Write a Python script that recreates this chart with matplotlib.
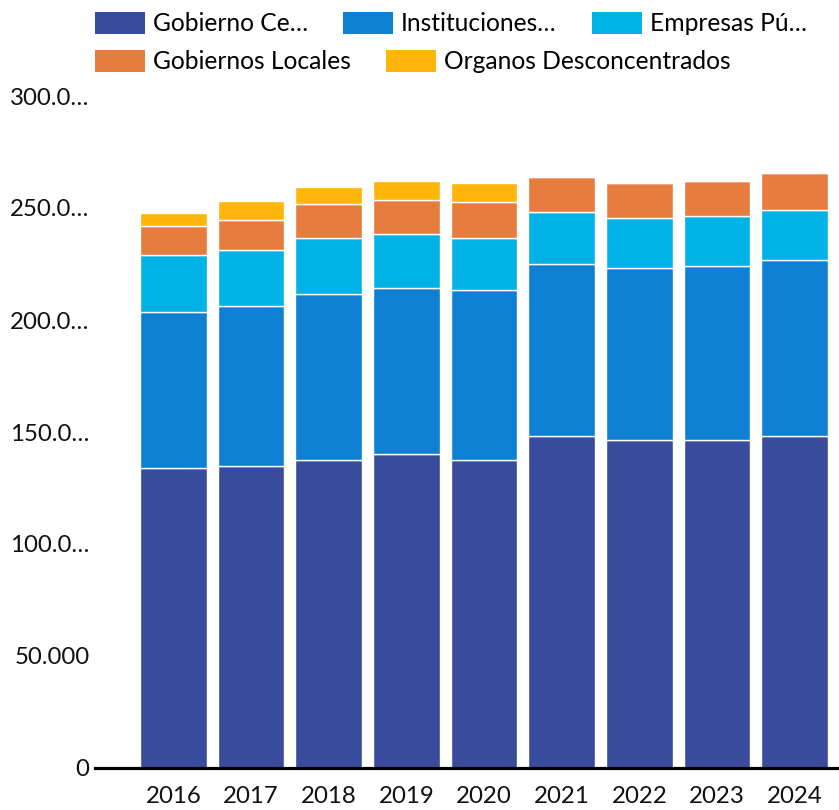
import numpy as np
import matplotlib
matplotlib.use('Agg')
from matplotlib import pyplot as plt
from matplotlib.patches import Patch

plt.rcParams['font.family'] = ['Lato', 'DejaVu Sans']

years = ['2016', '2017', '2018', '2019', '2020', '2021', '2022', '2023', '2024']

# values (same units as axis: 50.000 per step)
gob_central = [133800, 134700, 137400, 140000, 137400, 148100, 146300, 146300, 148100]
instituciones = [69600, 71400, 74100, 74200, 75900, 76800, 76800, 77700, 78600]
empresas = [25800, 25000, 25000, 24100, 23200, 23200, 22300, 22300, 22300]
gob_locales = [12600, 13400, 15200, 15100, 16000, 15900, 15900, 15900, 16800]
organos = [6100, 8800, 7800, 8800, 8800, 0, 0, 0, 0]

series_names = ['Gobierno Ce…', 'Instituciones…', 'Empresas Pú…',
                'Gobiernos Locales', 'Organos Desconcentrados']
colors = ['#394B9C', '#0E80D2', '#00B2E5', '#E67C3E', '#FFB50A']

y_ticks = [0, 50000, 100000, 150000, 200000, 250000, 300000]
y_labels = ['0', '50.000', '100.0…', '150.0…', '200.0…', '250.0…', '300.0…']

fig = plt.figure(figsize=(8.39, 8.10), dpi=100)
ax = fig.add_axes([95/839, 42/810, 1 - 95/839, 672/810])

x = np.arange(len(years))
bottom = np.zeros(len(years))
all_series = [gob_central, instituciones, empresas, gob_locales, organos]
for vals, c in zip(all_series, colors):
    vals = np.array(vals, dtype=float)
    ax.bar(x, vals, 0.86, bottom=bottom, color=c, edgecolor='white', linewidth=1)
    bottom += vals

ax.set_xlim(-1.01, 8.57)
ax.set_ylim(0, 300000)
ax.set_xticks(x)
ax.set_xticklabels(years)
ax.set_yticks(y_ticks)
ax.set_yticklabels(y_labels)
ax.tick_params(axis='both', length=0, labelsize=17.3, colors='#111111')
ax.tick_params(axis='x', pad=13)
ax.tick_params(axis='y', pad=4)
for s in ['top', 'right', 'left']:
    ax.spines[s].set_visible(False)
ax.spines['bottom'].set_linewidth(2.3)
ax.spines['bottom'].set_color('black')

handles = [Patch(facecolor=c, edgecolor='none') for c in colors]
leg_kw = dict(frameon=False, fontsize=17.7, handlelength=2.03, handleheight=1.0,
              handletextpad=0.33, columnspacing=1.42, borderpad=0, borderaxespad=0)
leg1 = fig.legend(handles[:3], series_names[:3], ncol=3, loc='upper left',
                  bbox_to_anchor=(95/839, 1 - 12/810), **leg_kw)
leg2 = fig.legend(handles[3:], series_names[3:], ncol=2, loc='upper left',
                  bbox_to_anchor=(95/839, 1 - 50/810), **leg_kw)

fig.savefig('out.png', dpi=100)
